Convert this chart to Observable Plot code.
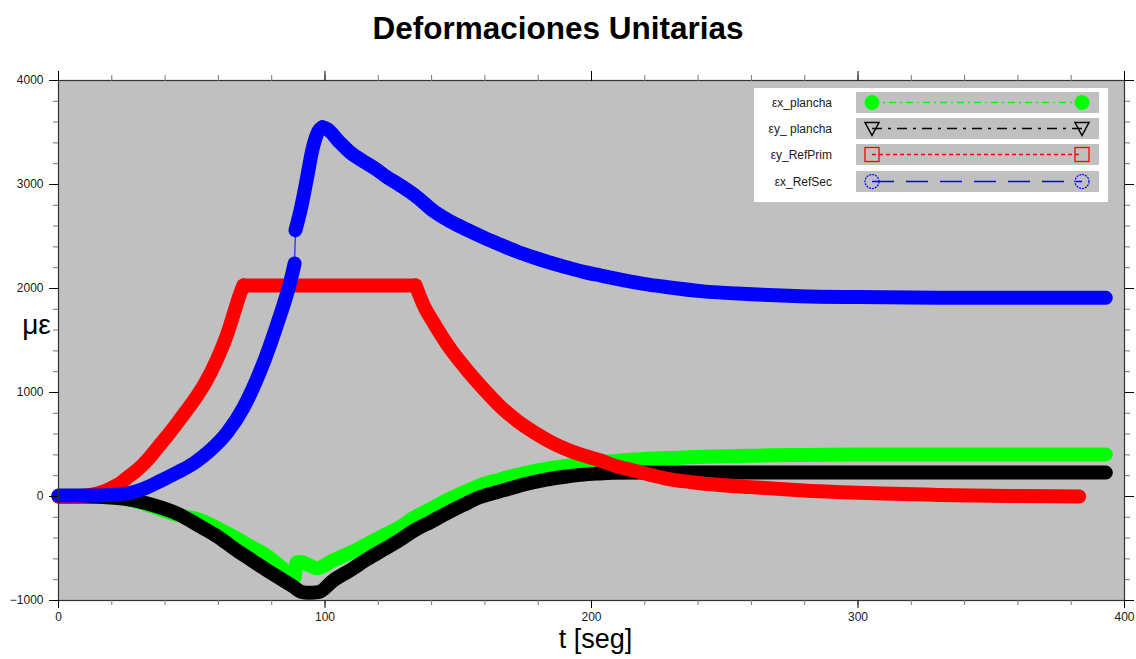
<!DOCTYPE html>
<html><head><meta charset="utf-8">
<script src="https://cdn.jsdelivr.net/npm/d3@7"></script>
<script src="https://cdn.jsdelivr.net/npm/@observablehq/plot@0.6"></script>
<style>
body{margin:0;background:#fff;font-family:"Liberation Sans",Arial,sans-serif;}
#wrap{position:relative;width:1136px;height:659px;overflow:hidden;}
#title{height:60px;line-height:56px;text-align:center;font-weight:bold;font-size:31.5px;padding-right:20px;color:#000;box-sizing:border-box;}
#chart svg{display:block;}
#legend{position:absolute;left:754px;top:88px;width:354px;height:114px;}
</style></head><body>
<div id="wrap"><div id="title">Deformaciones Unitarias</div><div id="chart"></div><div id="legend"></div></div>
<script>
// ---- data (t in seconds, strain in microstrain) ----
const greenT = [0,10,20,28,35,45,53,60,66,72,78,84,87,88.5,89.3,91,94,97,103,110,116,122,128,133,140,146,152,158,165,171,177,183,190,196,202,208,220,233,246,262,278,300,340,393];
const greenV = [0,0,-10,-38,-95,-180,-225,-310,-391,-480,-567,-690,-760,-785,-635,-630,-660,-690,-615,-535,-455,-375,-295,-210,-115,-32,40,106,160,202,238,266,292,314,328,340,360,373,385,393,400,403,405,405];

const blackT = [0,10,20,28,35,45,53,60,66,72,78,84,88,91,94,97.5,103,110,116,122,128,133,140,146,152,158,165,171,177,183,190,196,202,208,220,260,330,393];
const blackV = [0,0,-10,-35,-80,-170,-285,-390,-503,-605,-705,-800,-865,-915,-926,-920,-810,-700,-600,-510,-420,-335,-240,-157,-80,-8,45,90,130,163,190,208,220,228,230,230,230,230];

const redT1 = [0,8,12,16,19.5,23,26,29,32,35,38.3,41.5,44.6,47.7,50.8,55,59.5,63.3,65.8,68.3,69.4];
const redV1 = [0,5,15,40,77,125,186,245,314,400,505,605,708,815,923,1090,1320,1560,1760,1960,2030];
const redT2 = [69.4,134];
const redV2 = [2030,2030];
const redT3 = [134,137,141,147,153.4,160,166,172,178.4,185,191,197,203.4,209,215.9,222,228.4,237,246,260,278,300,330,360,383];
const redV3 = [2030,1840,1660,1420,1212,1020,860,730,618,520,450,395,346,295,250,208,170,140,115,90,60,35,15,5,0];

const blueT1 = [0,10,20,26,32,38.3,44.6,50.8,57,63.3,69.5,75.8,82.1,87.1,88.6];
const blueV1 = [10,10,15,30,75,150,232,320,445,615,860,1212,1660,2077,2240];
const blueT2 = [88.9,90.8,93.3,95.2,97.7,99];
const blueV2 = [2560,2750,3070,3327,3520,3550];
const blueT3 = [99,101,105,109.6,114,118.9,123,128.3,134.6,140.8,147,153.4,160,165.9,172,178.4,185,190.9,197,203.4,210,215.9,222,228.4,241,260,278.4,300,330,393];
const blueV3 = [3550,3530,3420,3305,3230,3151,3075,2990,2878,2743,2645,2564,2485,2420,2355,2298,2245,2202,2160,2125,2090,2061,2035,2013,1975,1945,1926,1918,1912,1910];

const seriesNames = ["εx_plancha","εy_ plancha","εy_RefPrim","εx_RefSec"];
const seriesColors = ["#00ff00","#000000","#ff0000","#0000ff"];
const seriesDash = ["7,4,2,4","10,6,3,6","4,3","22,12"];
const seriesSymbol = ["dot","triangle","square","circle"];

const xMajorTicks = [0,100,200,300,400];
const xMinorTicks = d3.range(0,401,20);
const yMajorTicks = [-1000,0,1000,2000,3000,4000];
const yMinorTicks = d3.range(-1000,4001,200);

const toRows = (T, V) => T.map((t, i) => ({t, v: V[i]}));
const green = toRows(greenT, greenV);
const black = toRows(blackT, blackV);
const red1 = toRows(redT1, redV1), red2 = toRows(redT2, redV2), red3 = toRows(redT3, redV3);
const blue1 = toRows(blueT1, blueV1), blue2 = toRows(blueT2, blueV2), blue3 = toRows(blueT3, blueV3);
const blueGap = [blue1[blue1.length-1], blue2[0]];

const lineOpts = (stroke) => ({x:"t", y:"v", stroke, strokeWidth:14, strokeLinecap:"round", strokeLinejoin:"round", curve:"monotone-x"});
const blank = () => "";

const chart = Plot.plot({
  width:1136, height:599,
  marginLeft:58, marginRight:12, marginTop:20, marginBottom:59,
  x:{domain:[0,400]},
  y:{domain:[-1000,4000]},
  style:{fontFamily:'"Liberation Sans", Arial, sans-serif', fontSize:"12px", background:"transparent", overflow:"visible", color:"#1a1a1a"},
  marks:[
    Plot.frame({fill:"#c0c0c0"}),
    Plot.line(green, lineOpts(seriesColors[0])),
    Plot.line(black, lineOpts(seriesColors[1])),
    Plot.line(red1, lineOpts(seriesColors[2])),
    Plot.line(red2, lineOpts(seriesColors[2])),
    Plot.line(red3, lineOpts(seriesColors[2])),
    Plot.line(blueGap, {x:"t", y:"v", stroke:seriesColors[3], strokeWidth:1}),
    Plot.line(blue1, lineOpts(seriesColors[3])),
    Plot.line(blue2, lineOpts(seriesColors[3])),
    Plot.line(blue3, lineOpts(seriesColors[3])),
    Plot.frame({stroke:"#333", strokeWidth:1.2}),
    // minor ticks
    Plot.axisX({anchor:"bottom", ticks:xMinorTicks, tickSize:5, tickFormat:blank, stroke:"#777", label:null}),
    Plot.axisX({anchor:"top", ticks:xMinorTicks, tickSize:6, tickFormat:blank, stroke:"#777", label:null}),
    Plot.axisY({anchor:"left", ticks:yMinorTicks, tickSize:5, tickFormat:blank, stroke:"#777", label:null}),
    Plot.axisY({anchor:"right", ticks:yMinorTicks, tickSize:5, tickFormat:blank, stroke:"#777", label:null}),
    // major ticks
    Plot.axisX({anchor:"bottom", ticks:xMajorTicks, tickSize:8, tickPadding:4, tickFormat:d3.format("d"), stroke:"#000", label:null}),
    Plot.axisX({anchor:"top", ticks:xMajorTicks, tickSize:10, tickFormat:blank, stroke:"#000", label:null}),
    Plot.axisY({anchor:"left", ticks:yMajorTicks, tickSize:9, tickPadding:6, tickFormat:d3.format("d"), stroke:"#000", label:null}),
    Plot.axisY({anchor:"right", ticks:yMajorTicks, tickSize:9, tickFormat:blank, stroke:"#000", label:null}),
    Plot.text(["με"], {text:d=>d, frameAnchor:"left", textAnchor:"middle", dx:-22, dy:-15, fontSize:28, fill:"#000"}),
    Plot.text(["t [seg]"], {text:d=>d, frameAnchor:"bottom", textAnchor:"middle", dx:4, dy:47, fontSize:27, fill:"#000"})
  ]
});
document.getElementById("chart").appendChild(chart);

// ---- legend ----
const lg = d3.select("#legend").append("svg").attr("width",354).attr("height",114)
  .style("font-family",'"Liberation Sans", Arial, sans-serif');
lg.append("rect").attr("width",354).attr("height",114).attr("fill","#fff");
const rowTop = [4,30,56,83];
seriesNames.forEach((name, i) => {
  const cy = rowTop[i] + 10.5;
  lg.append("rect").attr("x",102).attr("y",rowTop[i]).attr("width",243).attr("height",21).attr("fill","#c0c0c0");
  lg.append("text").attr("x",78).attr("y",cy+4).attr("text-anchor","end").attr("font-size",12).attr("fill","#1a1a1a").text(name);
  const c = seriesColors[i];
  lg.append("line").attr("x1",118).attr("x2",328).attr("y1",cy).attr("y2",cy)
    .attr("stroke",c).attr("stroke-width",1.3).attr("stroke-dasharray",seriesDash[i]);
  [118,328].forEach(mx => {
    const s = seriesSymbol[i];
    if (s === "dot") lg.append("circle").attr("cx",mx).attr("cy",cy).attr("r",7.5).attr("fill",c);
    else if (s === "circle") lg.append("circle").attr("cx",mx).attr("cy",cy).attr("r",7).attr("fill","none").attr("stroke",c).attr("stroke-width",1.2).attr("stroke-dasharray","2,1");
    else if (s === "square") lg.append("rect").attr("x",mx-7).attr("y",cy-7).attr("width",14).attr("height",14).attr("fill","none").attr("stroke",c).attr("stroke-width",1.3);
    else lg.append("path").attr("d",`M${mx-7},${cy-6}L${mx+7},${cy-6}L${mx},${cy+7}Z`).attr("fill","none").attr("stroke",c).attr("stroke-width",1.5);
  });
});
</script>
</body></html>
